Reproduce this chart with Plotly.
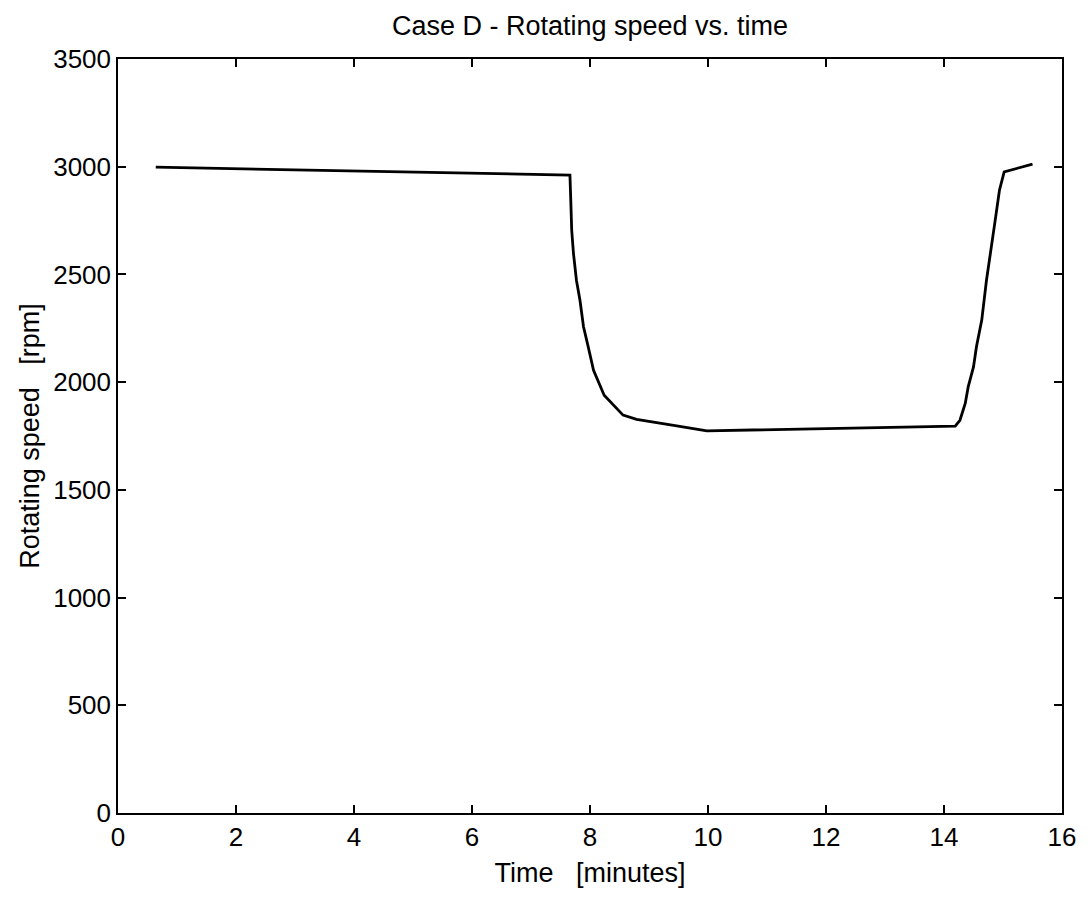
import plotly.graph_objects as go

time_min = [0.64, 7.66, 7.67, 7.69, 7.72, 7.77, 7.83, 7.89, 7.97, 8.06, 8.24, 8.56, 8.79, 9.19, 9.47, 9.98,
            14.19, 14.27, 14.36, 14.41, 14.50, 14.55, 14.64, 14.72, 14.78, 14.86, 14.94, 15.02, 15.50]
speed_rpm = [2998, 2961, 2880, 2705, 2597, 2473, 2380, 2257, 2164, 2055, 1939, 1847, 1827, 1811, 1797, 1774,
             1796, 1823, 1901, 1978, 2071, 2164, 2288, 2473, 2597, 2737, 2891, 2976, 3012]

x_ticks = [0, 2, 4, 6, 8, 10, 12, 14, 16]
y_ticks = [0, 500, 1000, 1500, 2000, 2500, 3000, 3500]

font_family = "Liberation Sans, Arial, sans-serif"

# page body has an 8px margin; compensate so plot area lands at the reference position
W, H = 1083, 889
L, T = 110, 51
PW, PH = 944, 754

fig = go.Figure()
fig.add_trace(go.Scatter(x=time_min, y=speed_rpm, mode="lines",
                         line=dict(color="black", width=2.8), showlegend=False))

axis_common = dict(showline=True, linecolor="black", linewidth=1.5, mirror="ticks",
                   ticks="inside", ticklen=8, tickwidth=1.5, tickcolor="black",
                   showgrid=False, zeroline=False,
                   tickfont=dict(size=26, color="black", family=font_family))

fig.update_layout(
    width=W, height=H,
    margin=dict(l=L, r=W - L - PW, t=T, b=H - T - PH),
    paper_bgcolor="white", plot_bgcolor="white",
    font=dict(family=font_family, color="black"),
    title=dict(text="Case D - Rotating speed vs. time", x=(L + PW / 2) / W, xanchor="center",
               y=1 - 18 / H, yanchor="middle", yref="container",
               font=dict(size=27, color="black", family=font_family)),
    xaxis=dict(range=[0, 16], tickvals=x_ticks, ticktext=[str(v) for v in x_ticks],
               title=dict(text="Time\u00a0\u00a0\u00a0[minutes]", font=dict(size=27), standoff=12), **axis_common),
    yaxis=dict(range=[0, 3500], tickvals=y_ticks, ticktext=[str(v) for v in y_ticks],
               title=dict(text="Rotating speed\u00a0\u00a0\u00a0[rpm]", font=dict(size=27), standoff=6), **axis_common),
)

fig.write_html("out.html")
